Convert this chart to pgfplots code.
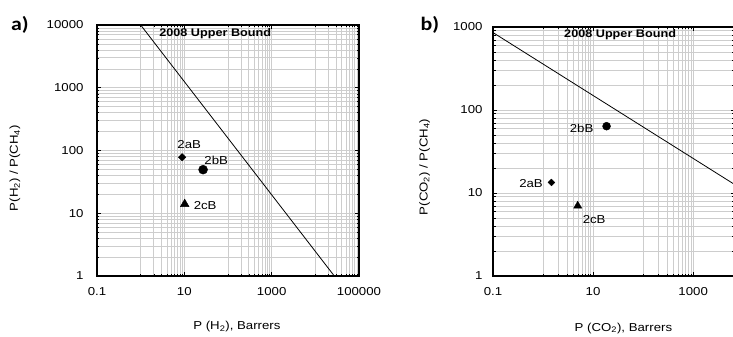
\documentclass[border=0pt]{standalone}
\usepackage{fontspec}
\setmainfont{Liberation Sans}[FakeStretch=1.15]
\newfontfamily\panelfont{Carlito}[FakeStretch=1.15]
\usepackage{pgfplots}
\pgfplotsset{compat=1.18}
\definecolor{gridgray}{RGB}{205,205,205}
\newcommand{\myfont}{\fontsize{11.5bp}{13bp}\selectfont}
\pgfplotsset{
  robstyle/.style={
    scale only axis, anchor=south west,
    axis line style={line width=1.2bp, black},
    grid=both,
    major grid style={gridgray, line width=0.7bp},
    minor grid style={gridgray, line width=0.7bp},
    tick style={black, line width=0.6bp},
    tick align=inside,
    major tick length=4bp, minor tick length=2.5bp,
    tick label style={font=\myfont},
    label style={font=\myfont},
    /pgf/number format/assume math mode=true,
    xticklabel style={yshift=-8bp},
    clip=true,
  }
}
\begin{document}
\begin{tikzpicture}[font=\myfont]
\path[use as bounding box] (0,0) rectangle (733bp,337bp);
% ---------------- panel a
\begin{loglogaxis}[robstyle,
  at={(97bp,61bp)}, width=262bp, height=251bp,
  xmin=0.1, xmax=100000, ymin=1, ymax=10000,
  xtick={0.1,10,1000,100000}, xticklabels={0.1,10,1000,100000},
  minor xtick={1,2,3,4,5,6,7,8,9,100,200,300,400,500,600,700,800,900,10000,20000,30000,40000,50000,60000,70000,80000,90000},
  ytick={1,10,100,1000,10000}, yticklabels={1,10,100,1000,10000},
  minor ytick={2,3,4,5,6,7,8,9,20,30,40,50,60,70,80,90,200,300,400,500,600,700,800,900,2000,3000,4000,5000,6000,7000,8000,9000},
  yticklabel style={xshift=-10bp},
  xlabel={P (H\textsubscript{2}), Barrers},
  xlabel style={at={(axis description cs:0.534,-0.203)}, anchor=center},
  ylabel={P(H\textsubscript{2}) / P(CH\textsubscript{4})},
  ylabel style={at={(axis description cs:-0.313,0.43)}, anchor=center},
]
\addplot[black, line width=0.8bp] coordinates {(1,10000) (27200,1)};
\addplot[only marks, mark=square*, mark size=2.6bp, mark options={rotate=45, fill=black}] coordinates {(8.9,78)};
\addplot[only marks, mark=*, mark size=4.5bp, mark options={fill=black}] coordinates {(26.9,49.5)};
\addplot[only marks, mark=triangle*, mark size=5bp, mark options={fill=black}] coordinates {(10.2,14)};
\node[font=\myfont] at (axis cs:12.9,123) {2aB};
\node[font=\myfont] at (axis cs:53.7,70.6) {2bB};
\node[font=\myfont] at (axis cs:30,13.5) {2cB};
\node[font=\fontsize{11bp}{13bp}\selectfont\bfseries] at (axis cs:51,7200) {2008 Upper Bound};
\end{loglogaxis}
% ---------------- panel b
\begin{loglogaxis}[robstyle,
  at={(493bp,61bp)}, width=241.5bp, height=249bp,
  xmin=0.1, xmax=6700, ymin=1, ymax=1000,
  xtick={0.1,10,1000}, xticklabels={0.1,10,1000},
  minor xtick={1,2,3,4,5,6,7,8,9,100,200,300,400,500,600,700,800,900},
  ytick={1,10,100,1000}, yticklabels={1,10,100,1000},
  minor ytick={2,3,4,5,6,7,8,9,20,30,40,50,60,70,80,90,200,300,400,500,600,700,800,900},
  yticklabel style={xshift=-7bp},
  xlabel={P (CO\textsubscript{2}), Barrers},
  xlabel style={at={(axis description cs:0.54,-0.209)}, anchor=center},
  ylabel={P(CO\textsubscript{2}) / P(CH\textsubscript{4})},
  ylabel style={at={(axis description cs:-0.283,0.438)}, anchor=center},
]
\addplot[black, line width=0.8bp] coordinates {(0.1,857) (10000,10.9)};
\addplot[only marks, mark=square*, mark size=2.4bp, mark options={rotate=45, fill=black}] coordinates {(1.47,13.4)};
\addplot[only marks, mark=*, mark size=4bp, mark options={fill=black}] coordinates {(18.6,63.8)};
\addplot[only marks, mark=triangle*, mark size=4.7bp, mark options={fill=black}] coordinates {(4.93,7.0)};
\node[font=\myfont] at (axis cs:5.9,60) {2bB};
\node[font=\myfont] at (axis cs:0.575,12.9) {2aB};
\node[font=\myfont] at (axis cs:10.5,4.73) {2cB};
\node[font=\fontsize{11bp}{13bp}\selectfont\bfseries] at (axis cs:34.7,800) {2008 Upper Bound};
\end{loglogaxis}
\node[font=\panelfont\bfseries\fontsize{19bp}{21bp}\selectfont] at (20bp,312bp) {a)};
\node[font=\panelfont\bfseries\fontsize{19bp}{21bp}\selectfont] at (430bp,312bp) {b)};
\end{tikzpicture}
\end{document}
